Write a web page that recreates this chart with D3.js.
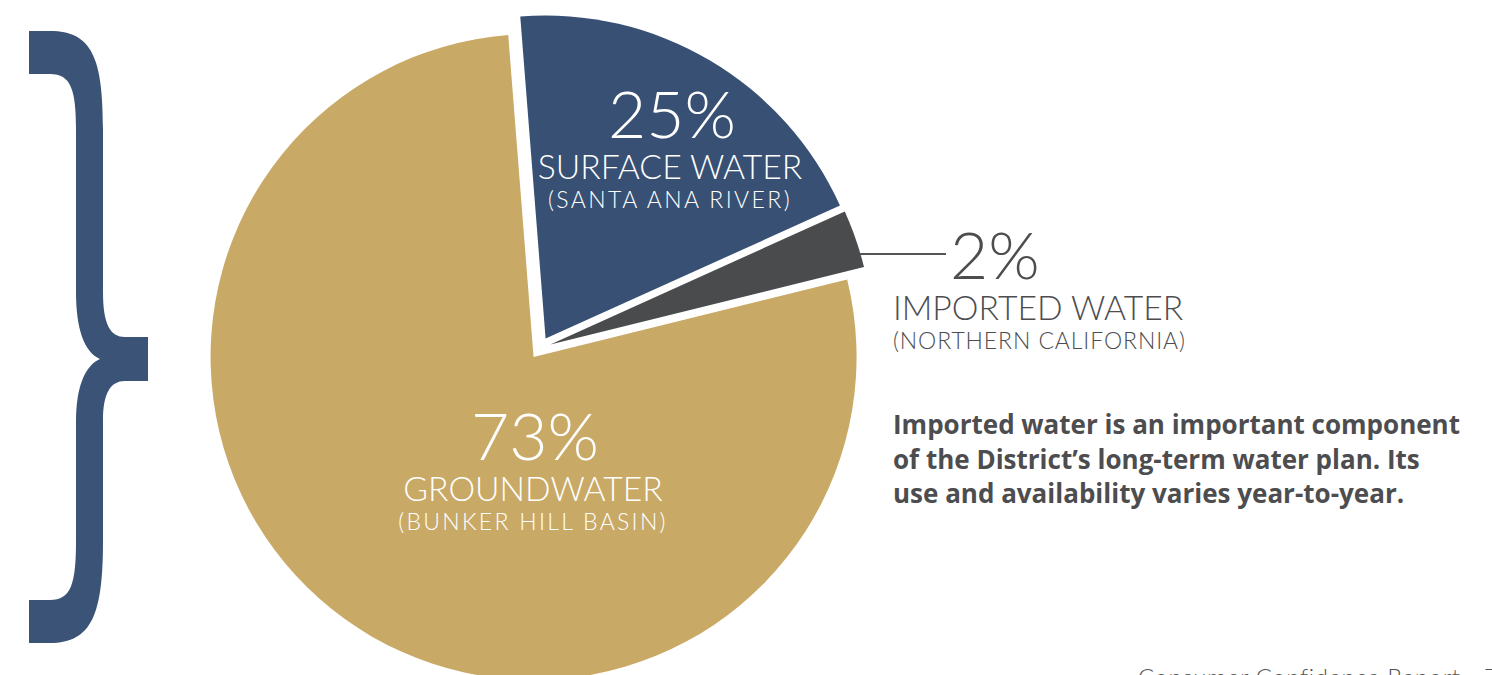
<!DOCTYPE html>
<html>
<head>
<meta charset="utf-8">
<script src="https://cdn.jsdelivr.net/npm/d3@7"></script>
<style>
  html, body { margin: 0; padding: 0; background: #fff; }
  svg { display: block; }
</style>
</head>
<body>
<div id="container"></div>
<script>
/**
 * DATA
 * */
const sources = ["SURFACE WATER", "IMPORTED WATER", "GROUNDWATER"];
const details = ["(SANTA ANA RIVER)", "(NORTHERN CALIFORNIA)", "(BUNKER HILL BASIN)"];
const percents = [25, 2, 73];
const drawnShares = [19.5, 2.9, 77.6];
const note = [
  "Imported water is an important component",
  "of the District\u2019s long-term water plan. Its",
  "use and availability varies year-to-year."
];
const footer = "Consumer Confidence Report";
const pageNo = "7";

/**
 * CONSTANTS
 * */
const width = 1492, height = 675;
const colors = ["#375073", "#4a4b4d", "#c9a966"];
const textGray = "#4d4d4f";
const center = { x: 540, y: 348 };
const radius = 323;
const explode = 11;
const startDeg = -4.5;

const svg = d3.select("#container")
  .append("svg")
  .attr("width", width)
  .attr("height", height);

const rows = sources.map((s, i) => ({
  source: s, detail: details[i], pct: percents[i], share: drawnShares[i], color: colors[i]
}));

const pie = d3.pie()
  .sort(null)
  .value(d => d.share)
  .startAngle(startDeg * Math.PI / 180)
  .endAngle(startDeg * Math.PI / 180 + 2 * Math.PI);

const arcGen = d3.arc().innerRadius(0).outerRadius(radius);
const arcs = pie(rows);

// leader line for the small slice (drawn under the pie)
const lineY = center.y - 94;
svg.append("line")
  .attr("x1", center.x + 260)
  .attr("x2", center.x + 406)
  .attr("y1", lineY)
  .attr("y2", lineY)
  .attr("stroke", "#555557")
  .attr("stroke-width", 2);

const g = svg.append("g")
  .attr("transform", `translate(${center.x},${center.y})`);

g.selectAll("path.slice")
  .data(arcs)
  .join("path")
  .attr("class", "slice")
  .attr("d", arcGen)
  .attr("fill", d => d.data.color)
  .attr("transform", d => {
    const mid = (d.startAngle + d.endAngle) / 2;
    return `translate(${explode * Math.sin(mid)},${-explode * Math.cos(mid)})`;
  });

// brace on the left
const brace = d3.path();
brace.moveTo(29, 31);
brace.lineTo(50, 31);
brace.bezierCurveTo(92, 31, 103, 58, 103, 129);
brace.lineTo(103, 292);
brace.bezierCurveTo(103, 324, 110, 337, 125, 337);
brace.lineTo(148, 337);
brace.lineTo(148, 381);
brace.lineTo(125, 381);
brace.bezierCurveTo(110, 381, 103, 394, 103, 421);
brace.lineTo(103, 541);
brace.bezierCurveTo(103, 614, 92, 643, 50, 643);
brace.lineTo(29, 643);
brace.lineTo(29, 600);
brace.lineTo(50, 600);
brace.bezierCurveTo(71, 600, 76, 584, 76, 541);
brace.lineTo(76, 421);
brace.bezierCurveTo(76, 389, 84, 366, 100, 359);
brace.bezierCurveTo(84, 352, 76, 329, 76, 292);
brace.lineTo(76, 129);
brace.bezierCurveTo(76, 90, 71, 74, 50, 74);
brace.lineTo(29, 74);
brace.closePath();
svg.append("path").attr("d", brace.toString()).attr("fill", "#3a5377");

// slice labels
const font = "Lato, 'Open Sans', sans-serif";
const labelLayout = [
  { dx: 130, dy: -210, anchor: "middle", fill: "#fff", pctDx: 2, detailSpacing: 2.4 },
  { dx: 353, dy: -69, anchor: "start", fill: textGray, pctDx: 57, detailSpacing: 0.9 },
  { dx: -7, dy: 112, anchor: "middle", fill: "#fff", pctDx: 2, detailSpacing: 2.3 }
];

rows.forEach((d, i) => {
  const L = labelLayout[i];
  const lg = svg.append("g")
    .attr("transform", `translate(${center.x + L.dx},${center.y + L.dy})`)
    .attr("fill", L.fill)
    .attr("font-family", font)
    .attr("font-weight", 300)
    .attr("text-anchor", L.anchor);
  lg.append("text")
    .attr("x", L.pctDx)
    .attr("y", 0)
    .attr("font-size", 66)
    .text(d.pct + "%");
  lg.append("text")
    .attr("y", 41)
    .attr("font-size", 33.7)
    .text(d.source);
  lg.append("text")
    .attr("y", 70)
    .attr("font-size", 23)
    .attr("letter-spacing", L.detailSpacing)
    .text(d.detail);
});

// note paragraph
svg.append("text")
  .attr("x", 893)
  .attr("y", 434)
  .attr("fill", textGray)
  .attr("font-family", "'Open Sans', sans-serif")
  .attr("font-weight", 700)
  .attr("font-size", 26)
  .selectAll("tspan")
  .data(note)
  .join("tspan")
  .attr("x", 893)
  .attr("dy", (d, i) => i === 0 ? 0 : 34.5)
  .text(d => d);

// footer (cut by page edge, as in the source page)
svg.append("text")
  .attr("x", 1138)
  .attr("y", 686)
  .attr("fill", "#555")
  .attr("font-family", font)
  .attr("font-weight", 300)
  .attr("font-size", 24)
  .attr("letter-spacing", 0.6)
  .text(footer);
svg.append("text")
  .attr("x", 1484)
  .attr("y", 686)
  .attr("fill", "#555")
  .attr("font-family", font)
  .attr("font-weight", 300)
  .attr("font-size", 24)
  .text(pageNo);
</script>
</body>
</html>
